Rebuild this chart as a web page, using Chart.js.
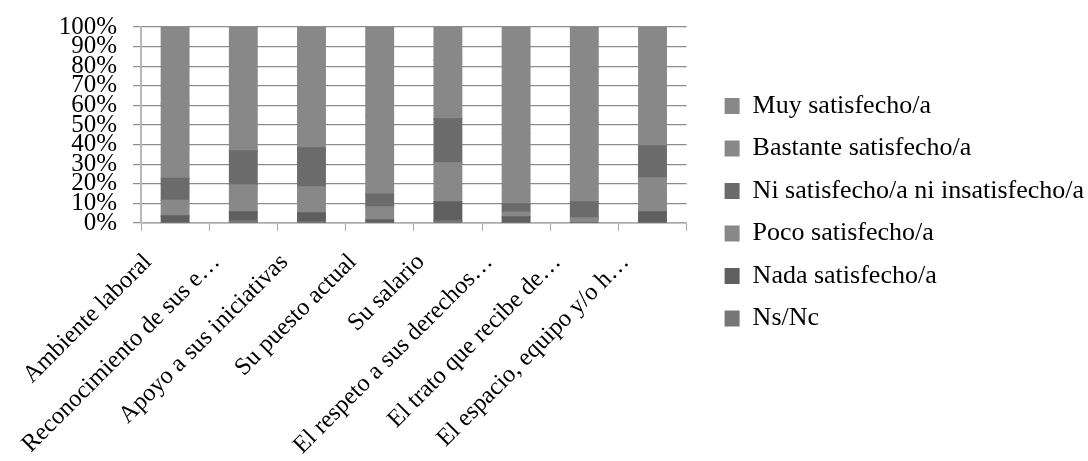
<!DOCTYPE html>
<html>
<head>
<meta charset="utf-8">
<script src="https://cdn.jsdelivr.net/npm/chart.js@4.4.1/dist/chart.umd.min.js"></script>
<style>
    html, body { margin: 0; padding: 0; background: #ffffff; }
    #wrap { width: 1088px; height: 461px; position: relative; }
</style>
</head>
<body>
<div id="wrap"><canvas id="satChart"></canvas></div>
<script>
// Categories (as truncated on the original axis)
const categories = [
    'Ambiente laboral',
    'Reconocimiento de sus e…',
    'Apoyo a sus iniciativas',
    'Su puesto actual',
    'Su salario',
    'El respeto a sus derechos…',
    'El trato que recibe de…',
    'El espacio, equipo y/o h…'
];

// Percent values per answer
const nsNc      = [0,    1,    0.5,  0,    1,    0,    0,    0];
const nada      = [3.5,  4.6,  4.6,  1.5,  9.7,  3,    0,    5.6];
const poco      = [8,    13.8, 13.3, 6.6,  19.9, 2.5,  2.5,  17.3];
const ni        = [11.2, 17.3, 19.9, 6.6,  22.4, 4.2,  8.2,  16.4];
const bastante  = [38,   36,   35,   40,   30,   36,   40,   35];
const muy       = [39.3, 27.3, 26.7, 45.3, 17,   54.3, 49.3, 25.7];

const yTicks = [0, 10, 20, 30, 40, 50, 60, 70, 80, 90, 100];

const serif = 'Liberation Serif';

document.addEventListener('DOMContentLoaded', function() {
    const ctx = document.getElementById('satChart').getContext('2d');

    // bottom of the stack first, legend is shown reversed
    const series = [
        { label: 'Ns/Nc', data: nsNc, color: '#767676' },
        { label: 'Nada satisfecho/a', data: nada, color: '#5f5f5f' },
        { label: 'Poco satisfecho/a', data: poco, color: '#888888' },
        { label: 'Ni satisfecho/a ni insatisfecho/a', data: ni, color: '#6b6b6b' },
        { label: 'Bastante satisfecho/a', data: bastante, color: '#888888' },
        { label: 'Muy satisfecho/a', data: muy, color: '#888888' }
    ];

    new Chart(ctx, {
        type: 'bar',
        data: {
            labels: categories,
            datasets: series.map(s => ({
                label: s.label,
                data: s.data,
                backgroundColor: s.color,
                borderWidth: 0,
                inflateAmount: 0.8,
                categoryPercentage: 1,
                barPercentage: 0.4
            }))
        },
        options: {
            responsive: true,
            maintainAspectRatio: false,
            animation: false,
            layout: { padding: { top: 27, bottom: 0, left: 0, right: -6 } },
            plugins: {
                tooltip: { enabled: false },
                legend: {
                    position: 'right',
                    align: 'start',
                    reverse: true,
                    maxWidth: 420,
                    // empty title only pushes the entries down
                    title: {
                        display: true,
                        text: ' ',
                        font: { family: serif, size: 10 },
                        padding: { top: 37.5, bottom: 0 }
                    },
                    labels: {
                        color: '#000000',
                        font: { family: serif, size: 26 },
                        boxWidth: 15,
                        boxHeight: 16,
                        padding: 16.5
                    }
                }
            },
            scales: {
                x: {
                    stacked: true,
                    grid: {
                        display: true,
                        drawOnChartArea: false,
                        drawTicks: true,
                        tickLength: 8,
                        color: '#a8a8a8',
                        offset: true
                    },
                    border: { display: true, color: '#a8a8a8', width: 1.5 },
                    ticks: {
                        autoSkip: false,
                        minRotation: 45,
                        maxRotation: 45,
                        color: '#000000',
                        font: { family: serif, size: 24.5 },
                        padding: 17,
                        labelOffset: -27
                    },
                    afterFit: function(scale) {
                        scale.height = 238;
                    }
                },
                y: {
                    stacked: true,
                    min: 0,
                    max: 100,
                    afterBuildTicks: function(scale) {
                        scale.ticks = yTicks.map(v => ({ value: v }));
                    },
                    grid: {
                        color: '#8c8c8c',
                        lineWidth: 1.2,
                        tickLength: 8
                    },
                    border: { display: true, color: '#b8b8b8', width: 2 },
                    ticks: {
                        autoSkip: false,
                        color: '#000000',
                        font: { family: serif, size: 25 },
                        padding: 16,
                        callback: function(value) {
                            return value + '%';
                        }
                    },
                    afterFit: function(scale) {
                        scale.width = 141;
                        scale.paddingTop = 0;
                        scale.paddingBottom = 0;
                    }
                },
                // empty spacer between the plot and the legend
                gap: {
                    position: 'right',
                    display: true,
                    grid: { display: false, drawTicks: false },
                    border: { display: false },
                    ticks: { display: false },
                    afterFit: function(scale) {
                        scale.width = 21.5;
                    }
                }
            }
        }
    });
});
</script>
</body>
</html>
